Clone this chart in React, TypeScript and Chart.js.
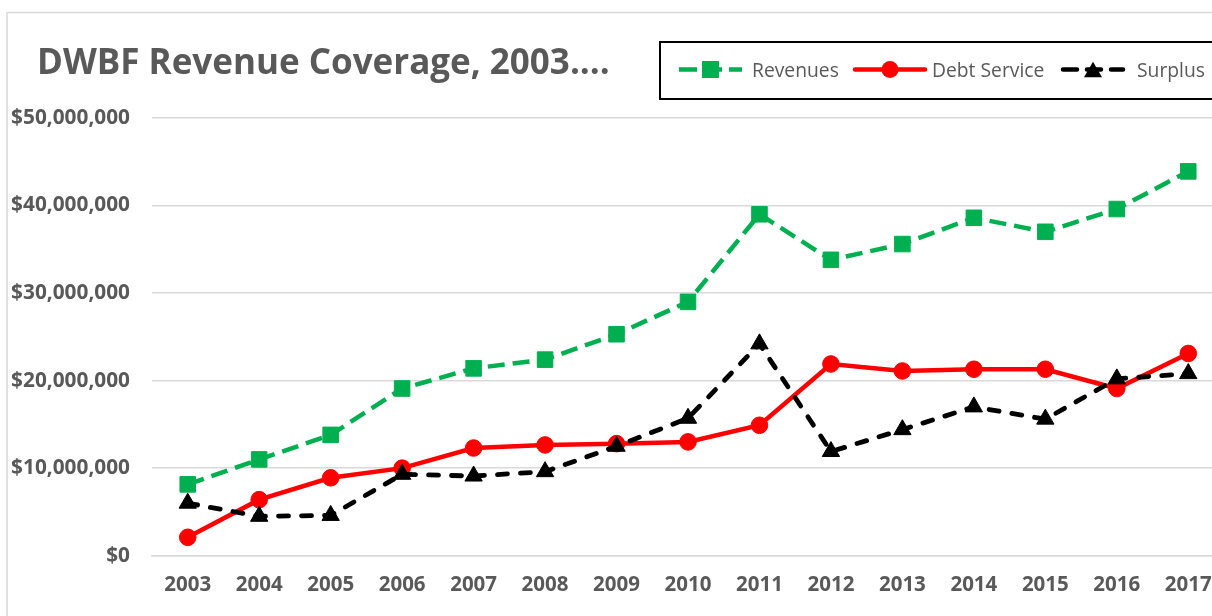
import React, { useEffect, useRef } from 'react';
import { Chart, registerables } from 'chart.js';

Chart.register(...registerables);

const years = ['2003', '2004', '2005', '2006', '2007', '2008', '2009', '2010', '2011', '2012', '2013', '2014', '2015', '2016', '2017'];
const revenues = [8150000, 11000000, 13800000, 19100000, 21400000, 22400000, 25300000, 29000000, 39000000, 33800000, 35600000, 38600000, 37000000, 39600000, 43900000];
const debtService = [2100000, 6400000, 8900000, 10000000, 12300000, 12650000, 12800000, 13000000, 14900000, 21900000, 21100000, 21300000, 21300000, 19100000, 23100000];
const surplus = [6000000, 4500000, 4600000, 9300000, 9100000, 9600000, 12500000, 15700000, 24200000, 11900000, 14400000, 17000000, 15600000, 20200000, 20800000];
const yMin = 0;
const yMax = 50000000;
const yStep = 10000000;
const titleText = 'DWBF Revenue Coverage, 2003....';
const seriesNames = ['Revenues', 'Debt Service', 'Surplus'];

const W = 1250;
const H = 640;
const FONT = '"Open Sans", sans-serif';
const GREY = '#595959';
const GRID = '#d9d9d9';
const GREEN = '#00B050';
const RED = '#FF0000';
const BLACK = '#000000';

function drawMarker(ctx: CanvasRenderingContext2D, kind: string, x: number, y: number, color: string, size: number) {
  ctx.save();
  ctx.fillStyle = color;
  ctx.setLineDash([]);
  ctx.beginPath();
  if (kind === 'rect') {
    ctx.rect(x - size / 2, y - size / 2, size, size);
  } else if (kind === 'circle') {
    ctx.arc(x, y, size / 2, 0, Math.PI * 2);
  } else {
    const h = size * 0.866;
    ctx.moveTo(x, y - h / 2);
    ctx.lineTo(x + size / 2, y + h / 2);
    ctx.lineTo(x - size / 2, y + h / 2);
    ctx.closePath();
  }
  ctx.fill();
  ctx.restore();
}

const chromePlugin = {
  id: 'chrome',
  beforeDraw(chart: any) {
    const ctx: CanvasRenderingContext2D = chart.ctx;
    ctx.save();
    ctx.fillStyle = '#ffffff';
    ctx.fillRect(0, 0, W, H);
    ctx.strokeStyle = GRID;
    ctx.lineWidth = 1.5;
    ctx.strokeRect(7, 12.5, W, H);
    ctx.restore();
  },
  afterDraw(chart: any) {
    const ctx: CanvasRenderingContext2D = chart.ctx;
    ctx.save();
    // title
    ctx.font = `bold 35px ${FONT}`;
    ctx.fillStyle = GREY;
    ctx.textBaseline = 'alphabetic';
    ctx.textAlign = 'left';
    ctx.fillText(titleText, 37, 73.5);

    // legend box
    ctx.fillStyle = '#ffffff';
    ctx.fillRect(660, 42, W, 57);
    ctx.strokeStyle = '#000000';
    ctx.lineWidth = 2;
    ctx.strokeRect(660, 42, W, 57);

    const cy = 69.5;
    const items = [
      { x0: 679, x1: 742, color: GREEN, dash: [18, 7], cap: 'butt', marker: 'rect', size: 17, tx: 752 },
      { x0: 855, x1: 925, color: RED, dash: [], cap: 'round', marker: 'circle', size: 17, tx: 932 },
      { x0: 1061, x1: 1125, color: BLACK, dash: [14, 10], cap: 'round', marker: 'triangle', size: 18, tx: 1137 },
    ];
    items.forEach((it, i) => {
      ctx.save();
      ctx.strokeStyle = it.color;
      ctx.lineWidth = 4.5;
      ctx.lineCap = it.cap as CanvasLineCap;
      ctx.setLineDash(it.dash);
      ctx.beginPath();
      ctx.moveTo(it.x0 + (it.cap === 'round' && it.dash.length ? 2 : 0), cy);
      ctx.lineTo(it.x1 - (it.cap === 'round' && it.dash.length ? 2 : 0), cy);
      ctx.stroke();
      ctx.restore();
      drawMarker(ctx, it.marker, (it.x0 + it.x1) / 2, cy, it.color, it.size);
      ctx.font = `19.3px ${FONT}`;
      ctx.fillStyle = GREY;
      ctx.textBaseline = 'alphabetic';
      ctx.fillText(seriesNames[i], it.tx, 76.7);
    });
    ctx.restore();
  },
};

export default function App() {
  const ref = useRef<HTMLCanvasElement | null>(null);

  useEffect(() => {
    if (!ref.current) return;
    const chart = new Chart(ref.current, {
      type: 'line',
      data: {
        labels: years,
        datasets: [
          {
            label: seriesNames[0],
            data: revenues,
            borderColor: GREEN,
            backgroundColor: GREEN,
            borderWidth: 4.5,
            borderDash: [17, 8],
            pointStyle: 'rect',
            pointRadius: 11,
            pointBorderWidth: 1,
            pointBorderColor: GREEN,
            pointBackgroundColor: GREEN,
            tension: 0,
            order: 2,
          },
          {
            label: seriesNames[1],
            data: debtService,
            borderColor: RED,
            backgroundColor: RED,
            borderWidth: 4.5,
            pointStyle: 'circle',
            pointRadius: 8.3,
            pointBorderWidth: 1,
            pointBorderColor: RED,
            pointBackgroundColor: RED,
            tension: 0,
            order: 1,
          },
          {
            label: seriesNames[2],
            data: surplus,
            borderColor: BLACK,
            backgroundColor: BLACK,
            borderWidth: 4.8,
            borderDash: [10, 13],
            borderCapStyle: 'round',
            pointStyle: 'triangle',
            pointRadius: 10,
            pointBorderWidth: 1,
            pointBorderColor: BLACK,
            pointBackgroundColor: BLACK,
            tension: 0,
            order: 0,
          },
        ],
      },
      options: {
        animation: false,
        responsive: false,
        devicePixelRatio: 1,
        layout: { padding: { top: 118, right: W - 1224, bottom: 0, left: 0 } },
        plugins: {
          legend: { display: false },
          title: { display: false },
          tooltip: { enabled: false },
        },
        scales: {
          x: {
            type: 'category',
            offset: true,
            grid: { display: false, drawTicks: false },
            border: { display: true, color: GRID, width: 1.5 },
            ticks: {
              color: GREY,
              font: { family: FONT, size: 20.5, weight: 'bold' },
              padding: 17.5,
              autoSkip: false,
              maxRotation: 0,
            },
            afterFit: (scale: any) => {
              scale.height = H - 555.7;
            },
          },
          y: {
            min: yMin,
            max: yMax,
            grid: { color: GRID, lineWidth: 1.5, drawTicks: false },
            border: { display: false },
            ticks: {
              stepSize: yStep,
              color: GREY,
              font: { family: FONT, size: 20.8, weight: 'bold' },
              padding: 22,
              callback: (v: any) => '$' + Number(v).toLocaleString('en-US'),
            },
            afterFit: (scale: any) => {
              scale.width = 152;
            },
          },
        },
      },
      plugins: [chromePlugin],
    });
    return () => chart.destroy();
  }, []);

  return (
    <div style={{ position: 'fixed', left: 0, top: 0, width: 1212, height: 616, overflow: 'hidden', background: '#fff' }}>
      <canvas ref={ref} width={W} height={H} style={{ width: W, height: H, display: 'block' }} />
    </div>
  );
}
